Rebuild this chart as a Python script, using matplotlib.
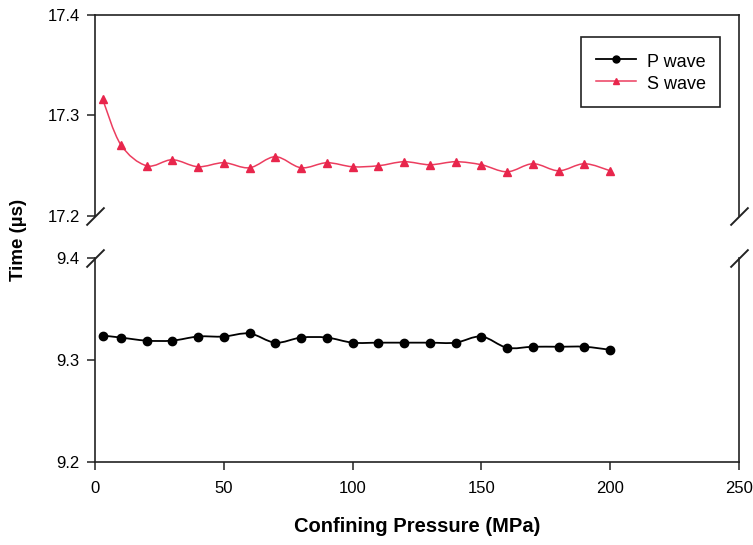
import matplotlib
matplotlib.use("Agg")
import matplotlib.pyplot as plt
from matplotlib.path import Path
from matplotlib.patches import PathPatch
from matplotlib.lines import Line2D

plt.rcParams['font.family'] = ['Liberation Sans', 'DejaVu Sans']

# Confining pressure steps (MPa)
pressure = [3, 10, 20, 30, 40, 50, 60, 70, 80, 90, 100,
            110, 120, 130, 140, 150, 160, 170, 180, 190, 200]

# Travel times (µs)
p_wave = [9.324, 9.322, 9.319, 9.319, 9.323, 9.323, 9.326, 9.317, 9.322, 9.322, 9.317,
          9.317, 9.317, 9.317, 9.317, 9.323, 9.312, 9.313, 9.313, 9.313, 9.310]
s_wave = [17.316, 17.271, 17.250, 17.256, 17.249, 17.253, 17.248, 17.259, 17.248, 17.253, 17.249,
          17.250, 17.254, 17.251, 17.254, 17.251, 17.244, 17.252, 17.245, 17.252, 17.245]

x_ticks = [0, 50, 100, 150, 200, 250]
upper_ticks = [17.2, 17.3, 17.4]
lower_ticks = [9.2, 9.3, 9.4]

P_COLOR = 'black'
S_COLOR = '#e8264c'
S_LINE = '#ec3d5f'


def smooth_path(xs, ys):
    """Cubic Bezier path through the points (spreadsheet-style smoothed line)."""
    pts = list(zip(xs, ys))
    n = len(pts)
    verts = [pts[0]]
    codes = [Path.MOVETO]
    for i in range(n - 1):
        p0 = pts[i - 1] if i > 0 else pts[i]
        p1 = pts[i]
        p2 = pts[i + 1]
        p3 = pts[i + 2] if i + 2 < n else pts[i + 1]
        c1 = (p1[0] + (p2[0] - p0[0]) / 6, p1[1] + (p2[1] - p0[1]) / 6)
        c2 = (p2[0] - (p3[0] - p1[0]) / 6, p2[1] - (p3[1] - p1[1]) / 6)
        verts += [c1, c2, p2]
        codes += [Path.CURVE4] * 3
    return Path(verts, codes)


fig = plt.figure(figsize=(7.53, 5.45), dpi=100)
L, W = 95 / 753, 644 / 753
ax_top = fig.add_axes([L, 1 - 216 / 545, W, 201 / 545])
ax_bot = fig.add_axes([L, 1 - 462 / 545, W, 204 / 545])

ax_bot.add_patch(PathPatch(smooth_path(pressure, p_wave), fill=False,
                           edgecolor=P_COLOR, lw=1.3))
ax_bot.plot(pressure, p_wave, linestyle='none', marker='o', ms=6,
            color=P_COLOR)
ax_top.add_patch(PathPatch(smooth_path(pressure, s_wave), fill=False,
                           edgecolor=S_LINE, lw=1.1))
ax_top.plot(pressure, s_wave, linestyle='none', marker='^', ms=5.5,
            color=S_COLOR)

for ax in (ax_top, ax_bot):
    ax.set_xlim(0, 250)
    for sp in ax.spines.values():
        sp.set_linewidth(1.2)
        sp.set_color('#222222')
    ax.tick_params(axis='both', direction='out', length=6, width=1.1,
                   labelsize=12, pad=5, color='#222222')

ax_top.set_ylim(17.2, 17.4)
ax_top.set_yticks(upper_ticks)
ax_top.set_yticklabels([f'{v:.1f}' for v in upper_ticks])
ax_top.spines['bottom'].set_visible(False)
ax_top.tick_params(axis='x', bottom=False, labelbottom=False)

ax_bot.set_ylim(9.2, 9.4)
ax_bot.set_yticks(lower_ticks)
ax_bot.set_yticklabels([f'{v:.1f}' for v in lower_ticks])
ax_bot.spines['top'].set_visible(False)
ax_bot.set_xticks(x_ticks)
ax_bot.set_xticklabels([str(v) for v in x_ticks])
ax_bot.tick_params(axis='x', pad=8)

# Diagonal break marks on both sides of the gap
mk = dict(marker=[(-1, -1), (1, 1)], markersize=13, linestyle='none',
          color='#222222', mec='#222222', mew=1.4, clip_on=False)
ax_top.plot([0, 1], [0, 0], transform=ax_top.transAxes, **mk)
ax_bot.plot([0, 1], [1, 1], transform=ax_bot.transAxes, **mk)

ax_bot.set_xlabel('Confining Pressure (MPa)', fontsize=14.5, fontweight='bold',
                  labelpad=15)
fig.text(0.024, (1 - 240 / 545), 'Time (µs)', rotation=90, fontsize=13.5,
         fontweight='bold', ha='center', va='center')

handles = [Line2D([], [], color=P_COLOR, lw=1.3, marker='o', ms=5, label='P wave'),
           Line2D([], [], color=S_LINE, lw=1.1, marker='^', ms=4.5,
                  mfc=S_COLOR, mec=S_COLOR, label='S wave')]
leg = ax_top.legend(handles=handles, loc='upper right',
                    bbox_to_anchor=(0.971, 0.891), borderaxespad=0,
                    fancybox=False, edgecolor='#222222', fontsize=13,
                    handlelength=2.2, handletextpad=0.6, labelspacing=0.15,
                    handleheight=1.15, borderpad=0.82, framealpha=1)
leg.get_frame().set_linewidth(1.2)

fig.savefig('out.png', dpi=100)
